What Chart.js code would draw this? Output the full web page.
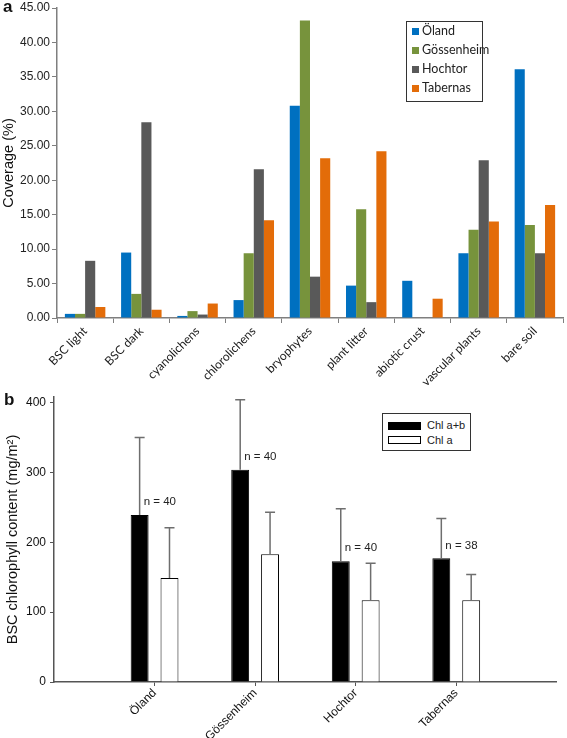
<!DOCTYPE html>
<html>
<head>
<meta charset="utf-8">
<script src="https://cdn.jsdelivr.net/npm/chart.js@4.4.0/dist/chart.umd.min.js"></script>
<style>
  body { margin: 0; background: #fff; }
  #wrap { position: relative; width: 567px; height: 738px; overflow: hidden; }
  canvas { position: absolute; left: 0; }
  .panel { position: absolute; font: bold 17px "Liberation Sans", Arial, sans-serif; color: #111; }
  .legend { position: absolute; box-sizing: border-box; border: 1.5px solid #333; background: #fff; }
  #legendA { left: 406px; top: 21px; width: 77px; height: 81px; font: 12.5px Lato, sans-serif; color: #222; }
  #legendA div { height: 20px; line-height: 20px; white-space: nowrap; padding-left: 5px; margin-top: -1px; }
  #legendA span { display: inline-block; width: 7px; height: 7px; margin-right: 3px; vertical-align: 0px; }
  #legendB { left: 382px; top: 413px; width: 89px; height: 38px; font: 11px "Liberation Sans", Arial, sans-serif; color: #222; }
  #legendB div { height: 14.5px; line-height: 14.5px; white-space: nowrap; padding-left: 5px; }
  #legendB div:first-child { margin-top: 4px; }
  #legendB span { display: inline-block; box-sizing: border-box; width: 33px; height: 8px; border: 1px solid #000; margin-right: 6px; vertical-align: -0.5px; }
</style>
</head>
<body>
<div id="wrap">
  <canvas id="chartB" width="567" height="358" style="top:380px"></canvas>
  <canvas id="chartA" width="567" height="392" style="top:0"></canvas>
  <div class="panel" style="left:3px; top:-3px;">a</div>
  <div class="panel" style="left:4px; top:390px;">b</div>
  <div class="legend" id="legendA"></div>
  <div class="legend" id="legendB"></div>
</div>
<script>
// panel a - coverage
let coverCats = ['BSC light', 'BSC dark', 'cyanolichens', 'chlorolichens', 'bryophytes', 'plant litter', 'abiotic crust', 'vascular plants', 'bare soil'];
let siteNames = ['Öland', 'Gössenheim', 'Hochtor', 'Tabernas'];
let siteColors = ['#0070C0', '#77933C', '#595959', '#E36C09'];
let oland = [0.6, 9.5, 0.3, 2.6, 30.8, 4.7, 5.4, 9.4, 36.1];
let gossenheim = [0.6, 3.5, 1.0, 9.4, 43.2, 15.8, 0, 12.8, 13.5];
let hochtor = [8.3, 28.4, 0.5, 21.6, 6.0, 2.3, 0, 22.9, 9.4];
let tabernas = [1.6, 1.2, 2.1, 14.2, 23.2, 24.2, 2.8, 14.0, 16.4];

// panel b - chlorophyll
let chlSites = ['', 'Öland', 'Gössenheim', 'Hochtor', 'Tabernas', ''];
let chlAB = [null, 239, 304, 173, 177, null];
let chlABerr = [null, 350, 404, 248, 234, null];
let chlA = [null, 149, 183, 117, 117, null];
let chlAerr = [null, 221, 243, 170, 154, null];
let nLabels = ['', 'n = 40', 'n = 40', 'n = 40', 'n = 38', ''];
let chlTicks = [0, 100, 200, 300, 400];

const arial = '"Liberation Sans", Arial, sans-serif';

const chartA = new Chart(document.getElementById('chartA'), {
	type: 'bar',
	data: {
		labels: coverCats,
		datasets: [oland, gossenheim, hochtor, tabernas].map((d, i) => ({
			label: siteNames[i],
			data: d,
			backgroundColor: siteColors[i],
			barPercentage: 1,
			categoryPercentage: 0.72,
		})),
	},
	options: {
		responsive: false,
		animation: false,
		devicePixelRatio: 1,
		layout: { padding: { top: 6, right: 4, left: 0, bottom: 0 } },
		plugins: { legend: { display: false }, tooltip: { enabled: false } },
		scales: {
			x: {
				grid: { offset: true, drawOnChartArea: false, tickLength: 5, color: '#7f7f7f' },
				border: { color: '#7f7f7f', width: 1.5 },
				ticks: { autoSkip: false, maxRotation: 45, minRotation: 45, padding: 1, color: '#1a1a1a', font: { family: 'Lato, sans-serif', size: 12 } },
				afterFit: (a) => { a.height = 74; },
			},
			y: {
				min: 0,
				max: 45,
				grid: { drawOnChartArea: false, tickLength: 5, color: '#7f7f7f' },
				border: { color: '#7f7f7f', width: 1.5 },
				ticks: { stepSize: 5, padding: 2, color: '#222', font: { family: arial, size: 12, lineHeight: 1 }, callback: (v) => v.toFixed(2) },
				title: { display: true, text: 'Coverage (%)', color: '#111', padding: { top: 0, bottom: 0 }, font: { family: arial, size: 14.5 } },
				afterFit: (a) => { a.width = 57; },
			},
		},
	},
});

// HTML legend for panel a
document.getElementById('legendA').innerHTML = chartA.data.datasets
	.map((ds) => `<div><span style="background:${ds.backgroundColor}"></span>${ds.label}</div>`)
	.join('');

// error bars + n labels for panel b
const errorBars = {
	id: 'errorBars',
	afterDatasetsDraw(chart) {
		const ctx = chart.ctx;
		const yScale = chart.scales.y;
		const errs = [chlABerr, chlAerr];
		ctx.save();
		ctx.strokeStyle = '#6e6e6e';
		ctx.lineWidth = 1.5;
		errs.forEach((errList, i) => {
			chart.getDatasetMeta(i).data.forEach((bar, j) => {
				if (errList[j] == null) return;
				const yTop = yScale.getPixelForValue(errList[j]);
				ctx.beginPath();
				ctx.moveTo(bar.x, bar.y);
				ctx.lineTo(bar.x, yTop);
				ctx.moveTo(bar.x - 5, yTop);
				ctx.lineTo(bar.x + 5, yTop);
				ctx.stroke();
			});
		});
		ctx.fillStyle = '#222';
		ctx.font = '11.5px ' + arial;
		ctx.textAlign = 'left';
		ctx.textBaseline = 'middle';
		chart.getDatasetMeta(0).data.forEach((bar, j) => {
			if (!nLabels[j]) return;
			ctx.fillText(nLabels[j], bar.x + 4, bar.y - 13);
		});
		ctx.restore();
	},
};

const chartB = new Chart(document.getElementById('chartB'), {
	type: 'bar',
	data: {
		labels: chlSites,
		datasets: [
			{ label: 'Chl a+b', data: chlAB, backgroundColor: '#000', borderColor: '#000', borderWidth: 1, barPercentage: 0.6, categoryPercentage: 0.594 },
			{ label: 'Chl a', data: chlA, backgroundColor: '#fff', borderColor: '#000', borderWidth: 1, barPercentage: 0.6, categoryPercentage: 0.594 },
		],
	},
	options: {
		responsive: false,
		animation: false,
		devicePixelRatio: 1,
		layout: { padding: { top: 17, right: 7, left: 0, bottom: 0 } },
		plugins: { legend: { display: false }, tooltip: { enabled: false } },
		scales: {
			x: {
				offset: false,
				grid: {
					offset: false,
					drawOnChartArea: false,
					tickLength: 4,
					tickColor: (c) => (chlSites[c.index] ? '#555' : 'rgba(0,0,0,0)'),
				},
				border: { color: '#555', width: 1.5 },
				ticks: { autoSkip: false, maxRotation: 45, minRotation: 45, padding: 0, color: '#111', font: { family: arial, size: 12 } },
				afterFit: (a) => { a.height = 56; },
			},
			y: {
				min: 0,
				max: 408,
				grid: { drawOnChartArea: false, tickLength: 4, color: '#555' },
				border: { color: '#555', width: 1.5 },
				ticks: { autoSkip: false, padding: 4, color: '#111', font: { family: arial, size: 12 } },
				afterBuildTicks: (a) => { a.ticks = chlTicks.map((v) => ({ value: v })); },
				title: { display: true, text: 'BSC chlorophyll content (mg/m²)', color: '#111', padding: { top: 4, bottom: 0 }, font: { family: arial, size: 14.5 } },
				afterFit: (a) => { a.width = 54; },
			},
		},
	},
	plugins: [errorBars],
});

document.getElementById('legendB').innerHTML = chartB.data.datasets
	.map((ds) => `<div><span style="background:${ds.backgroundColor}"></span>${ds.label}</div>`)
	.join('');
</script>
</body>
</html>
